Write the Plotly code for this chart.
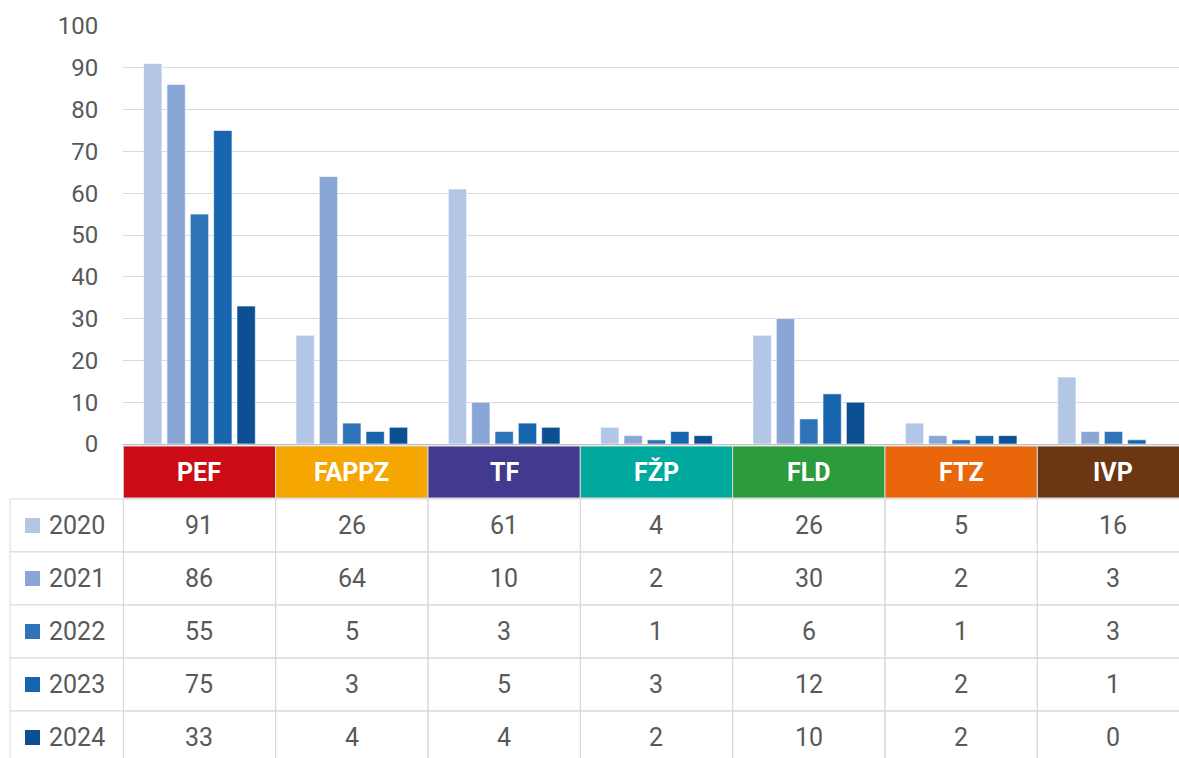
import plotly.graph_objects as go

categories = ["PEF", "FAPPZ", "TF", "FŽP", "FLD", "FTZ", "IVP"]
years = ["2020", "2021", "2022", "2023", "2024"]
v2020 = [91, 26, 61, 4, 26, 5, 16]
v2021 = [86, 64, 10, 2, 30, 2, 3]
v2022 = [55, 5, 3, 1, 6, 1, 3]
v2023 = [75, 3, 5, 3, 12, 2, 1]
v2024 = [33, 4, 4, 2, 10, 2, 0]
series = [v2020, v2021, v2022, v2023, v2024]
y_ticks = [0, 10, 20, 30, 40, 50, 60, 70, 80, 90, 100]

bar_colors = ["#B4C6E6", "#8AA6D6", "#2E72B8", "#1765AE", "#0D4F93"]
header_colors = ["#CB0C15", "#F5A600", "#423A8E", "#00A99D", "#2B9B3C", "#EA660B", "#6B3614"]

W, H = 1179, 758
def py(p):
    return (H - p) / H

TEXT = "#595959"
GRID = "#D9D9D9"
FONT = "Roboto"

fig = go.Figure()
for yr, vals, col in zip(years, series, bar_colors):
    fig.add_trace(go.Bar(x=categories, y=vals, name=yr, marker_color=col,
                         marker_line_color="rgba(255,255,255,0.6)", marker_line_width=1,
                         showlegend=False, hoverinfo="skip"))

shapes = []
annotations = []

# header row
hdr_top, hdr_bot = 446, 498
for i, (c, col) in enumerate(zip(categories, header_colors)):
    shapes.append(dict(type="rect", xref="x", yref="paper", x0=i - 0.5, x1=i + 0.5,
                       y0=py(hdr_bot), y1=py(hdr_top), fillcolor=col,
                       line=dict(color=GRID, width=1), layer="above"))
    annotations.append(dict(x=c, xref="x", y=py((hdr_top + hdr_bot) / 2), yref="paper",
                            text="<b>%s</b>" % c, showarrow=False,
                            font=dict(family=FONT, size=25, color="white"),
                            xanchor="center", yanchor="middle"))

# data rows
row_top0, row_h = 499, 53
left_x = 10
for r, (yr, vals, col) in enumerate(zip(years, series, bar_colors)):
    t = row_top0 + r * row_h
    b = t + row_h
    mid = (t + b) / 2
    shapes.append(dict(type="rect", xref="paper", yref="paper", x0=left_x / W, x1=123.3 / W,
                       y0=py(b), y1=py(t), line=dict(color=GRID, width=1), fillcolor="white"))
    shapes.append(dict(type="rect", xref="paper", yref="paper", x0=25 / W, x1=40 / W,
                       y0=py(mid + 7.5), y1=py(mid - 7.5), line=dict(width=0), fillcolor=col))
    annotations.append(dict(x=47 / W, xref="paper", y=py(mid), yref="paper", text=yr,
                            showarrow=False, font=dict(family=FONT, size=25, color=TEXT),
                            xanchor="left", yanchor="middle"))
    for i, c in enumerate(categories):
        shapes.append(dict(type="rect", xref="x", yref="paper", x0=i - 0.5, x1=i + 0.5,
                           y0=py(b), y1=py(t), line=dict(color=GRID, width=1)))
        annotations.append(dict(x=c, xref="x", y=py(mid), yref="paper", text=str(vals[i]),
                                showarrow=False, font=dict(family=FONT, size=25, color=TEXT),
                                xanchor="center", yanchor="middle"))

fig.update_layout(
    template="none",
    width=W, height=H,
    margin=dict(l=0, r=0, t=0, b=0, pad=0, autoexpand=False),
    paper_bgcolor="white", plot_bgcolor="white",
    barmode="group", bargap=0.234, bargroupgap=0.215,
    shapes=shapes, annotations=annotations,
    xaxis=dict(domain=[123.3 / W, 1], type="category", categoryorder="array",
               categoryarray=categories, range=[-0.5, 6.43], showticklabels=False,
               showgrid=False, zeroline=False, showline=False, ticks="",
               automargin=False, fixedrange=True),
    yaxis=dict(domain=[py(444), py(26)], range=[0, 100], tickvals=y_ticks,
               showgrid=True, gridcolor=GRID, gridwidth=1, zeroline=True,
               zerolinecolor="#BFBFBF", zerolinewidth=1, showline=False,
               tickfont=dict(family=FONT, size=24, color=TEXT),
               ticks="", ticklabelstandoff=24, automargin=False, fixedrange=True),
)

post = "document.body.style.margin='0';document.body.style.overflow='hidden';"
fig.write_html("out.html", config={"displayModeBar": False}, post_script=post)
